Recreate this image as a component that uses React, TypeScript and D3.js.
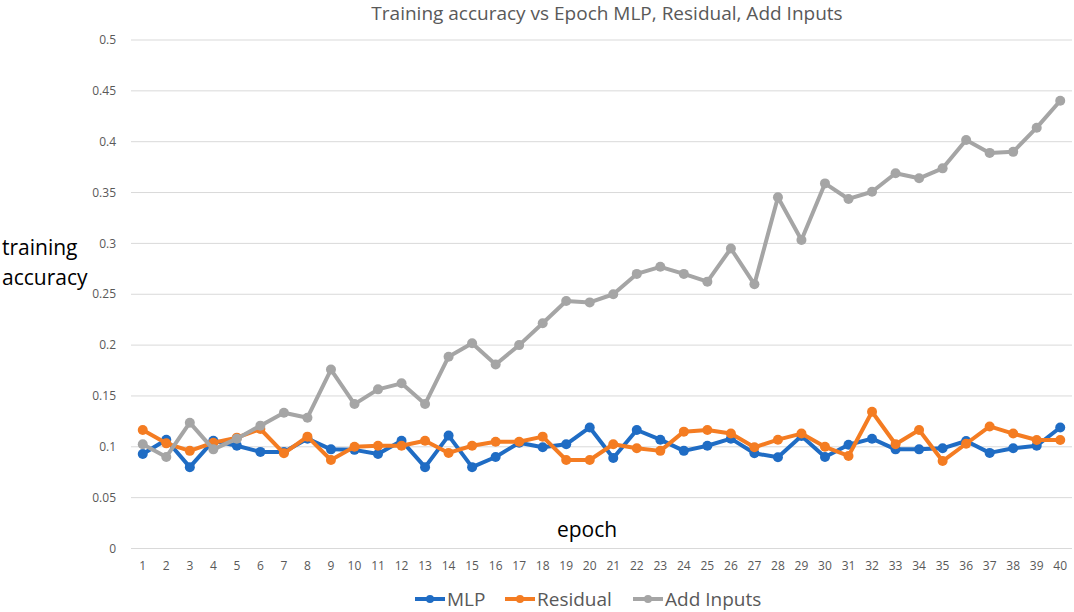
import React from 'react';
import * as d3 from 'd3';

const epochs = d3.range(1, 41);

const mlp = [
  0.093, 0.107, 0.080, 0.106, 0.101, 0.095, 0.095, 0.108, 0.0975, 0.097,
  0.093, 0.106, 0.080, 0.111, 0.080, 0.090, 0.104, 0.0995, 0.1025, 0.119,
  0.089, 0.1165, 0.107, 0.096, 0.101, 0.108, 0.0936, 0.0897, 0.1106, 0.090,
  0.102, 0.108, 0.0975, 0.0975, 0.0985, 0.1057, 0.094, 0.0985, 0.101, 0.119,
];

const residual = [
  0.1165, 0.1034, 0.096, 0.104, 0.109, 0.1175, 0.0936, 0.110, 0.087, 0.100,
  0.101, 0.101, 0.106, 0.094, 0.101, 0.105, 0.105, 0.110, 0.087, 0.087,
  0.1025, 0.0985, 0.096, 0.1149, 0.1165, 0.113, 0.0995, 0.107, 0.113, 0.100,
  0.091, 0.1345, 0.1025, 0.1165, 0.086, 0.103, 0.120, 0.113, 0.1067, 0.1067,
];

const addInputs = [
  0.1025, 0.090, 0.1237, 0.0975, 0.108, 0.1208, 0.1335, 0.1286, 0.176, 0.142,
  0.1565, 0.1624, 0.142, 0.1886, 0.2018, 0.181, 0.200, 0.2214, 0.2434, 0.242,
  0.250, 0.270, 0.277, 0.270, 0.2624, 0.295, 0.2598, 0.3453, 0.3033, 0.359,
  0.3437, 0.3508, 0.369, 0.364, 0.3738, 0.4017, 0.389, 0.390, 0.4138, 0.4403,
];

const yTicks = [0, 0.05, 0.1, 0.15, 0.2, 0.25, 0.3, 0.35, 0.4, 0.45, 0.5];

const series = [
  { name: 'MLP', values: mlp, color: '#1f6cc4' },
  { name: 'Residual', values: residual, color: '#f47c22' },
  { name: 'Add Inputs', values: addInputs, color: '#a5a5a5' },
];

const W = 1074;
const H = 612;
const font = '"Open Sans", sans-serif';

const App: React.FC = () => {
  const x = d3.scaleBand<number>().domain(epochs).range([131, 1072]);
  const y = d3.scaleLinear().domain([0, 0.5]).range([548.5, 40]);
  const cx = (e: number) => (x(e) ?? 0) + x.bandwidth() / 2;

  const line = d3.line<number>()
    .x((_, i) => cx(epochs[i]))
    .y(d => y(d));

  // legend layout
  const legendItems = [
    { lx: 415, tx: 447 },
    { lx: 505, tx: 537 },
    { lx: 633, tx: 665 },
  ];

  return (
    <svg width={W} height={H} style={{ position: 'absolute', left: 0, top: 0, background: '#fff' }}>
      <rect width={W} height={H} fill="#fff" />

      {/* Title */}
      <text x={607} y={20} textAnchor="middle" fontFamily={font} fontSize={19} fill="#595959">
        Training accuracy vs Epoch MLP, Residual, Add Inputs
      </text>

      {/* Grid lines + y labels */}
      {yTicks.map(t => (
        <g key={`grid-${t}`}>
          <line x1={131} x2={1072} y1={y(t)} y2={y(t)} stroke="#d9d9d9" strokeWidth={1} />
          <text x={116} y={y(t)} dy="0.35em" textAnchor="end" fontFamily={font} fontSize={12} fill="#595959">
            {String(+t.toFixed(2))}
          </text>
        </g>
      ))}

      {/* X labels */}
      {epochs.map(e => (
        <text key={`x-${e}`} x={cx(e)} y={566} dy="0.35em" textAnchor="middle" fontFamily={font} fontSize={12} fill="#595959">
          {e}
        </text>
      ))}

      {/* Axis titles */}
      <text x={2} y={255} fontFamily={font} fontSize={21} fill="#000">training</text>
      <text x={2} y={285} fontFamily={font} fontSize={21} fill="#000">accuracy</text>
      <text x={587} y={537} textAnchor="middle" fontFamily={font} fontSize={21} fill="#000">epoch</text>

      {/* Series */}
      {series.map(s => (
        <g key={s.name}>
          <path d={line(s.values) ?? ''} fill="none" stroke={s.color} strokeWidth={4} strokeLinejoin="round" />
          {s.values.map((v, i) => (
            <circle key={`${s.name}-${i}`} cx={cx(epochs[i])} cy={y(v)} r={5} fill={s.color} />
          ))}
        </g>
      ))}

      {/* Legend */}
      {series.map((s, i) => (
        <g key={`legend-${s.name}`}>
          <line x1={legendItems[i].lx} x2={legendItems[i].lx + 30} y1={599} y2={599} stroke={s.color} strokeWidth={4} />
          <circle cx={legendItems[i].lx + 15} cy={599} r={4} fill={s.color} />
          <text x={legendItems[i].tx} y={599} dy="0.35em" fontFamily={font} fontSize={19} fill="#595959">
            {s.name}
          </text>
        </g>
      ))}
    </svg>
  );
};

export default App;
